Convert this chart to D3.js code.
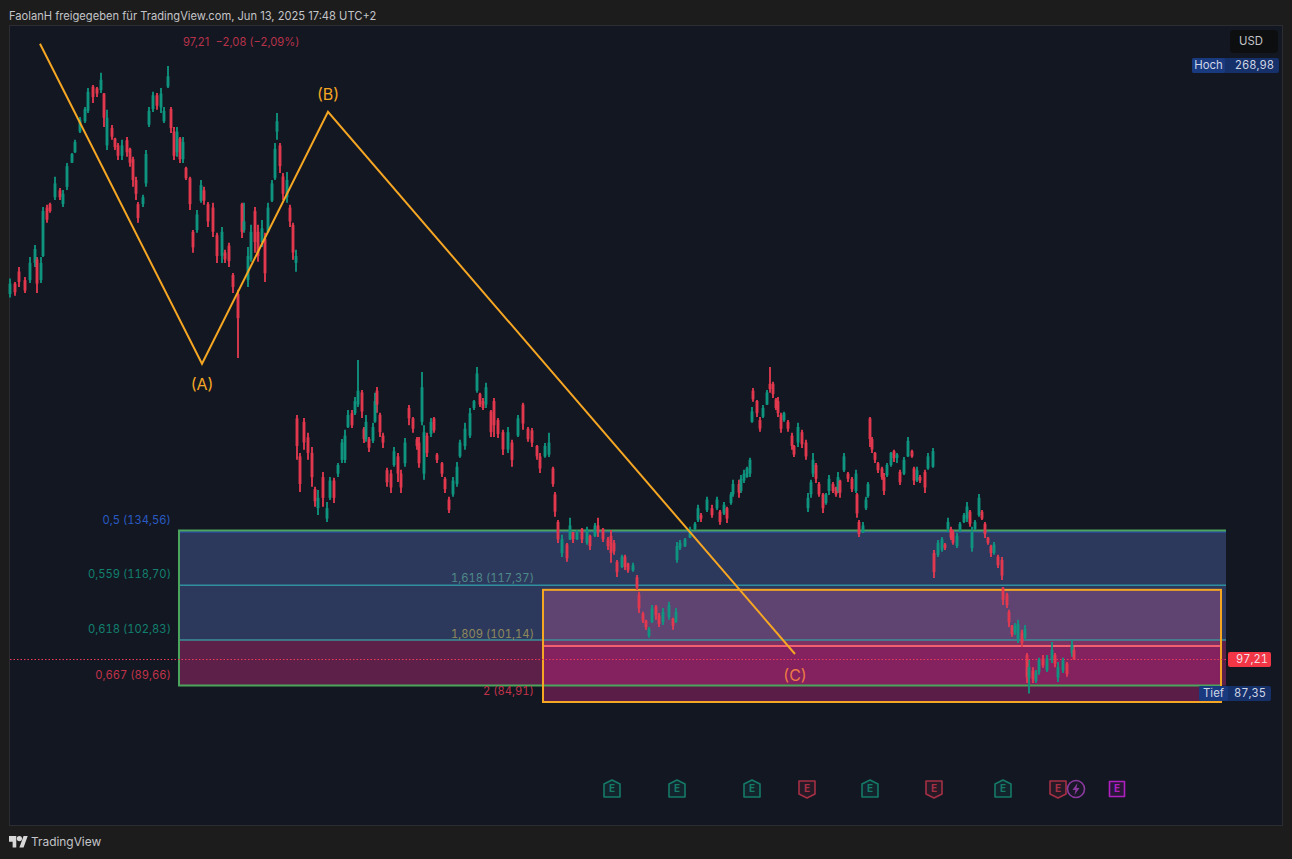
<!DOCTYPE html>
<html>
<head>
<meta charset="utf-8">
<script src="https://cdn.jsdelivr.net/npm/d3@7"></script>
<style>
  html, body { margin:0; padding:0; background:#1c1c1d; overflow:hidden; }
  text { font-family:Inter, "Noto Sans", sans-serif; }
  .num { font-variant-numeric:tabular-nums; }
</style>
</head>
<body>
<div id="chart"></div>
<script>
// bars per leg: [day, open, high, low, close]
const leg1 = [
  [0,203,207.5,202,206],[5,206,206.5,202.5,203.5],[9,209.5,210.8,205,206.5],[15,207,207.9,203.3,204],
  [20,207,213.7,206.2,212],[25,212,217.2,210.8,216],[27,213,213.7,203.3,206],[31,207,213.7,206.2,212],
  [33,214,228.2,213.7,227],[37,228,228.8,223.6,224.5],[40,229,229.4,226.5,227],[45,231,236.9,230.2,235],
  [50,233,233.7,230.2,231],[53,229,233.1,228.2,232],[57,234,240.9,233.1,240],[62,241,243.8,240.9,243.5],
  [65,244,247.6,243.8,247],[70,250,254.2,249.6,253.5],[75,253,257.1,252.5,256.5],[78,256,262.6,255.4,261.5],
  [83,263,263.5,258.3,260],[87,262.5,262.9,260,261],[91,262,267,261.2,265],[94,261,261.2,251.3,254],
  [97,246,256.3,244.7,254],[102,251,251.9,247.6,248.5],[105,248,248.2,244.7,245.5],[108,246,246.7,241.8,243],
  [112,243,247.6,241.8,246],[117,247.5,248.4,242.7,244],[120,245,245.3,239.8,241],[123,242,242.7,234,236],
  [126,236,236.9,230.2,232],[128,229,229.6,223.6,225],[133,229,231.7,228.2,231],[136,235,244.7,234,243.5],
  [139,252,257.1,251.3,256],[143,256.5,261.5,255.7,260.5],[147,260.5,261.2,256.3,257.5],[151,257,262.6,255.4,261],
  [154,253,257.1,252.5,256],[158,263,268.98,262.6,266],[161,256.5,257.1,249.6,251],[164,250,251.3,241.8,243],
  [167,244,251.3,242.7,250],[170,248,248.4,240.9,242],[173,242,248.4,240.9,247],[176,239.5,239.8,236,236.5],
  [180,236.5,236.9,227.3,229],[183,221,221.5,214.9,216.5],[187,221.5,227.3,220.7,226],[191,230,236,229.4,234.5],
  [194,233,234,228.8,230],[198,229,229.6,222.4,224],[203,228,229.4,219.5,221],[207,220,220.7,212,214],
  [212,214,222.4,212,221],[215,215,215.8,212,213],[219,217,217.8,210.8,212.5],[223,208.5,209.1,203.3,205],
  [228,203,204.2,184.5,196],[232,229,229.4,219.2,221],[234,221.5,229.4,220.7,224],[238,207,216.6,205,214],
  [241,213,223,212.3,221],[245,227,228.2,214.9,218],[248,221,223,212.3,214],[252,218,224.4,216.6,222],
  [255,219,220.7,206.5,209],[258,221,229.4,220.7,228],[262,230,236,229.6,235],[265,236.5,246.7,236,245],
  [267,250,255.4,247.6,253],[270,246,246.7,238,240],[273,237,238,230.2,232],[277,231,238.3,229.4,236],
  [280,228,228.8,222.4,224],[283,223,223.6,212.9,215],[286,212,215.8,209.4,214]
];
const leg2 = [
  [287,167,168,155,159],[290,156,157,145.7,148],[294,166,167.1,157.9,160],[298,161.5,162.8,155,157],
  [302,157,158.7,147.2,150],[305,146.5,147.2,141.4,143],[308,141,146.3,139,144],[313,150,151.5,141.4,144],
  [317,138,142.8,137,141],[320,144,150,143.4,149],[324,149,149.8,142.5,144],[328,151,154.1,150,153.5],
  [332,155,161,154.1,160],[335,155,163.7,154.1,162],[338,164.5,169.4,164.2,168],[342,168.5,169.4,164.2,165],
  [345,168.5,173.2,168,172],[348,171,183.9,170.3,175],[352,174.5,175.2,167.1,169],[354,164,164.5,159.9,161],
  [356,161,168,160.2,166],[359,161,161.6,157.3,158.5],[363,160.5,165.7,159.9,164.5],[365,166,174.4,165.7,172],
  [367,175,176.1,168.6,171],[370,168,168.6,161.6,163],[373,162,162.8,158.4,160],[377,152,152.7,147.2,148.5],
  [381,151,152.1,145.4,147],[384,153.5,158.7,153,157.5],[388,156,157,148.6,151],[391,151,152.1,145.4,147],
  [395,154,161.3,153,160],[399,170,170.9,165,167],[403,167,167.4,162.8,164],[407,161,161.6,157.9,159],
  [409,160,161.6,152.7,154],[412,166,180.4,165,176],[414,151,165,149.2,163],[417,162,162.8,155.8,157],
  [421,162.5,167.1,161.6,166],[424,167,167.4,162.8,163.5],[427,156.5,157,154.1,155],[432,154,154.4,150,151],
  [435,149.5,150,145.4,146.5],[439,143.5,144.3,139.6,140.5],[443,145,150,144.3,149],[447,148,154.4,147.2,153],
  [450,156,160.8,155.6,160],[455,159,165.7,157.9,164],[460,162,170,161.3,168.5],[464,170,172.3,169.4,172],
  [467,175,181.9,174.4,180],[470,174,174.4,170.3,171],[473,172,172.9,169.4,170],[476,171,177.3,170,176],
  [481,169,169.4,161.6,163],[484,172,172.9,161.6,165],[488,166.5,167.1,161.3,162.5],[493,163,163.7,156.4,158],
  [498,158,164.5,157,163],[502,160,160.8,153,155],[508,162,168,161.6,167],[513,171,171.5,163.7,165.5],
  [518,164,164.5,160.2,161],[522,163.5,164.2,158.7,160],[527,159,159.3,155,156],[530,156,157,151.2,152.5],
  [535,156,159.9,155.6,159],[539,156.5,162.8,155.8,160],[543,152.5,153,147.2,148],[545,145,145.7,138.5,140]
];
const leg3 = [
  [548,137,137.6,130.9,132],[552,128,133.3,126.9,132],[557,130.5,130.9,125.5,126.5],[560,132,138.2,131.8,136],
  [563,134,134.1,130.9,132],[567,132,134.7,131.8,134],[572,135,135.3,130.9,132],[577,131,135.6,130.4,135],
  [580,133,133.3,128.9,130],[585,133,136.7,132.7,136],[588,136,138.2,132.7,134],[593,135,135.3,131.2,132],
  [598,132,132.7,128.9,130],[601,133,134.7,125.2,128],[604,131,131.8,127.5,128.5],[607,125.5,126,121.1,122.5],
  [612,124,127.5,123.7,127],[615,127,127.5,123.1,124],[618,125,125.2,122.3,123],[623,123,125.2,122.6,124.5],
  [627,121,121.7,117.3,118],[629,116,116.8,110.7,112],[633,110.5,111,107.8,108.5],[636,108.5,108.7,105.8,106.5],
  [639,104,106.6,103.5,106],[642,108,113,107.8,112],[646,112.5,113,108.7,110],[649,110,110.7,106.6,107.5],
  [653,108,112.1,107.2,111],[659,109.5,113.9,108.7,113],[663,109,109.3,105.8,107],[666,108,112.1,107.8,111]
];
const leg4 = [
  [667,126,131.2,125.2,130],[670,129.5,131.8,128.9,131],[675,130,132.4,129.8,132],[680,132.5,135.6,132.4,135],
  [685,135,137,134.7,136.5],[688,137.5,142,137,141],[691,139,139.6,137,138],[697,140.5,144.3,139.9,143.5],
  [702,141,142,138.2,139],[707,141,144.3,140.5,143.5],[710,140,140.5,136.2,137],[714,139.5,142.8,139,142],
  [717,141,141.4,136.7,138],[721,142.5,145.7,142,145],[723,145,149.2,144.3,148],[729,148,149.2,144,145.5],
  [731,146,150.6,145.4,149.5],[734,149,152.1,148.3,151],[737,150,153,149.8,152.5],[740,151,155.6,150,155]
];
const leg5 = [
  [742,166,170.3,165.7,169],[743,175,175.8,171.8,172.5],[747,172,172.3,167.4,168.5],[750,166.5,167.4,163.1,164],
  [753,167.5,170.9,167.1,170],[757,171,175.2,170.9,174.5],[760,177,181.9,174.4,175.5],[763,177,177.6,172.9,174],
  [766,172.5,172.9,169.4,170],[768,172,173.2,167.4,168.5],[771,168,168.6,162.8,164],[774,166.5,168.9,166,168.5],
  [778,166,166.5,163.1,164],[782,162,162.8,157.9,159],[784,159,159.3,155.8,156.5],[788,160,165.7,158.7,164.5],
  [792,163,163.7,158.4,159.5],[796,160,160.8,155,156],[798,141,145.4,139.9,144],[801,145,149.2,144,148.5],
  [803,151,157,150,155],[806,153.5,154.1,148.3,149.5],[809,148,148.6,144.3,145],[813,145,145.4,139.6,141],
  [816,142.5,145.4,142,145],[819,146,150.6,144.8,149.5],[823,148,148.6,145.4,146],[826,147,147.2,144.3,145],
  [828,146,151.5,145.4,150],[830,149,149.2,144,145.5],[834,152,157,151.5,156],[838,151,151.5,148.6,149.5],
  [842,149.5,150,145.7,146.5],[846,146,152.1,145.4,151],[847,145,145.4,138.2,139.5],[849,137,137.6,132.7,133.5],
  [853,134,137,133.8,136],[856,141,144.3,140.5,143.5],[858,144.5,148.6,144,148]
];
const leg6 = [
  [860,167,167.4,158.7,161],[862,161,161.6,157,158],[865,157,157.3,154.1,155],[868,154,154.4,151.2,152],
  [872,152.5,153,149.2,150],[874,150,151.2,144.8,146],[877,150.5,154.1,150,153.5],[881,153.5,157.3,153,157],
  [884,157.5,157.9,154.4,155.5],[887,155.5,157,154.1,156.5],[890,151.5,152.1,147.7,148.5],[894,151,155.8,150.6,155],
  [898,156,161.6,155.8,160.5],[902,157.5,157.9,155.6,156],[904,152.5,153,147.7,149],[907,149,153,148.6,152],
  [910,150,150.6,148.3,149],[915,151.5,152.1,145.4,147],[918,152.5,157,152.1,156],[923,153,158.4,152.7,157.5]
];
const leg7 = [
  [924,128,128.9,120.8,122.5],[928,127.5,131.8,126.9,131],[932,129,132.7,128.4,132],[935,130.5,130.9,128.9,129.5],
  [938,135,138.2,134.1,137],[941,135,135.6,131.8,132.5],[943,134,134.7,130.4,131],[947,130,133.8,129.5,133],
  [950,134.5,137,134.1,136.5],[954,137,139.6,136.7,139],[957,138,142.8,137,141.5],[960,140,140.5,135.6,136.5],
  [962,129.5,135.6,128.4,134],[965,135,137.6,134.7,137],[969,139,145.1,138.5,144],[972,140,140.5,137.6,138],
  [975,136.5,137,132.4,133.5],[978,132.5,132.7,130.4,131],[981,130,130.4,126.9,128],[984,128,131.2,127.5,130.5],
  [988,127,127.5,123.7,124.5],[992,126,126.9,120.2,121.5],[993,118,118.2,113,114.5],[997,116,116.5,112.1,113],
  [999,111,111.6,106.6,108],[1002,107,107.2,103.8,104.5],[1005,105,107.8,104.3,107],[1008,103,108.7,102,107.5],
  [1012,105,105.8,100.8,102],[1015,103.5,107.2,102.9,106],[1017,98.5,99.1,90.4,92],[1019,92,97.1,87.35,95],
  [1023,94,95,90.4,91.5],[1026,91,94.2,90.4,93.5],[1029,93.5,97.7,92.8,97],[1033,97.5,98.5,94.8,95.5],
  [1037,94,98.5,93.6,97.5],[1042,97,102.3,96.2,100],[1045,98.5,99.1,95,96],[1048,92,96.5,90.7,95],
  [1053,94,97.7,93.3,97],[1057,96,96.5,92.2,93],[1062,99,102.9,98,101.5],[1064,100,100.8,97.1,97.21]
];

// fib retracement (left) and extension (right)
const fibRatios = ["0,5","0,559","0,618","0,667"];
const fibPrices = [134.56,118.70,102.83,89.66];
const fibColors = ["#2a5bc4","#12806f","#12806f","#c2334a"];
const extRatios = ["1,618","1,809","2"];
const extPrices = [117.37,101.14,84.91];
const extColors = ["#4f8a8a","#8f8a5c","#c2334a"];
const fibDays = [169,1216];
const extDays = [533,1211];

// ABC wave
const waveDays = [30,192,318,785];
const wavePrices = [275.4,182.8,255.7,98.8];
const waveNames = ["(A)","(B)","(C)"];
const waveColors = ["#f5a623","#f5a623","#ee7a45"];

// events row
const earningsDays = [602,667,742,797,860,924,993,1048];
const earningsBeat = [1,1,1,0,1,0,1,0];
const splitDay = 1066;
const nextEarningsDay = 1107;

const lastPrice = 97.21, lastChange = -2.08, lastPct = -2.09;
const highPrice = 268.98, lowPrice = 87.35;

const W = 1292, H = 859;
const UP = "#0f9681", DOWN = "#e53a50";

const fmt = d3.formatLocale({decimal:",",thousands:".",grouping:[3],currency:["",""],minus:"\u2212"}).format(".2f");

const svg = d3.select("#chart").append("svg").attr("width",W).attr("height",H);
const x = d3.scaleLinear().domain([0,1064]).range([10,1074]);
const y = d3.scaleLinear().domain([84.91,268.98]).range([702,66]);

function label(g,px,py,txt,color,size,anchor) {
  return g.append("text").attr("x",px).attr("y",py).attr("fill",color)
    .attr("font-size",size).attr("text-anchor",anchor||"start")
    .attr("dominant-baseline","middle").text(txt);
}

// frame
svg.append("rect").attr("x",9.5).attr("y",25.5).attr("width",1273).attr("height",800)
  .attr("fill","#131722").attr("stroke","#2b2d33");

label(svg,9,16.5,"FaolanH freigegeben für TradingView.com, Jun 13, 2025 17:48 UTC+2","#c4c5c8",11.15);

// fib boxes
const boxes = svg.append("g");
function band(top,bottom,days,fill,alpha) {
  boxes.append("rect").attr("x",x(days[0])).attr("width",x(days[1])-x(days[0]))
    .attr("y",y(top)).attr("height",y(bottom)-y(top)).attr("fill",fill).attr("fill-opacity",alpha);
}
function hline(price,days,color,w,dy) {
  boxes.append("line").attr("x1",x(days[0])).attr("x2",x(days[1]))
    .attr("y1",y(price)+(dy||0)).attr("y2",y(price)+(dy||0)).attr("stroke",color).attr("stroke-width",w);
}
band(fibPrices[0],fibPrices[1],fibDays,"rgb(84,110,179)",0.4);
band(fibPrices[1],fibPrices[2],fibDays,"rgb(84,110,179)",0.4);
band(fibPrices[2],fibPrices[3],fibDays,"rgb(165,41,112)",0.5);
band(extPrices[0],extPrices[1],extDays,"rgb(188,87,152)",0.35);
band(extPrices[1],extPrices[2],extDays,"rgb(185,38,125)",0.42);

hline(fibPrices[0],fibDays,"#2a4fa8",1.5,1.5);
hline(fibPrices[1],fibDays,"#2f8f9f",1.5);
hline(fibPrices[2],fibDays,"#3d8f9a",1.5);
hline(extPrices[1],extDays,"#f0606e",2);

// green outline stays open on the right, orange one is closed
const greenEdge = d3.line().x(d=>x(d[0])).y(d=>y(d[1]));
boxes.append("path").attr("fill","none").attr("stroke","#4ca55c").attr("stroke-width",2)
  .attr("d",greenEdge([[fibDays[1],fibPrices[0]],[fibDays[0],fibPrices[0]],[fibDays[0],fibPrices[3]],[extDays[1],fibPrices[3]]]));
boxes.append("rect").attr("x",x(extDays[0])).attr("y",y(extPrices[0]))
  .attr("width",x(extDays[1])-x(extDays[0])).attr("height",y(extPrices[2])-y(extPrices[0]))
  .attr("fill","none").attr("stroke","#f5a623").attr("stroke-width",2);

// last price line
svg.append("line").attr("x1",10).attr("x2",x(fibDays[1]))
  .attr("y1",y(lastPrice)).attr("y2",y(lastPrice))
  .attr("stroke","#f03a5c").attr("stroke-dasharray","1.5 2");

// candles
const bars = [].concat(leg1,leg2,leg3,leg4,leg5,leg6,leg7);
const candles = svg.append("g").style("filter","blur(0.7px)");
candles.selectAll("line").data(bars).enter().append("line")
  .attr("x1",d=>x(d[0])).attr("x2",d=>x(d[0]))
  .attr("y1",d=>y(d[2])).attr("y2",d=>y(d[3]))
  .attr("stroke",d=>d[4]>=d[1]?UP:DOWN).attr("stroke-width",1.8);
candles.selectAll("rect").data(bars).enter().append("rect")
  .attr("x",d=>x(d[0])-1.5).attr("width",3)
  .attr("y",d=>y(Math.max(d[1],d[4])))
  .attr("height",d=>Math.max(1,Math.abs(y(d[1])-y(d[4]))))
  .attr("fill",d=>d[4]>=d[1]?UP:DOWN).attr("fill-opacity",0.85);

// wave
const wave = d3.line().x((d,i)=>x(waveDays[i])).y(d=>y(d));
svg.append("path").attr("d",wave(wavePrices)).attr("fill","none")
  .attr("stroke","#f5a623").attr("stroke-width",2);
[[1,22],[2,-16],[3,22.5]].forEach((o,i)=>{
  label(svg,x(waveDays[o[0]]),y(wavePrices[o[0]])+o[1],waveNames[i],waveColors[i],16,"middle");
});

// fib labels
fibRatios.forEach((r,i)=>{
  label(svg,171,y(fibPrices[i])-10,r+" ("+fmt(fibPrices[i])+")",fibColors[i],11.2,"end").attr("class","num");
});
extRatios.forEach((r,i)=>{
  label(svg,534,y(extPrices[i])-10.5,r+" ("+fmt(extPrices[i])+")",extColors[i],11.2,"end").attr("class","num");
});

// top left quote
label(svg,183,42.5,fmt(lastPrice)+"  "+fmt(lastChange)+" ("+fmt(lastPct)+"%)","#b8324a",11.2).style("white-space","pre");

// currency + price tags
svg.append("rect").attr("x",1230).attr("y",30).attr("width",48).attr("height",23).attr("rx",4).attr("fill","#0d0e10");
label(svg,1251,42,"USD","#c4c5c8",11.3,"middle");

function tag(px,py,w,nameW,name,val) {
  svg.append("rect").attr("x",px).attr("y",py).attr("width",w).attr("height",15).attr("rx",2).attr("fill","#16306a");
  svg.append("rect").attr("x",px).attr("y",py).attr("width",nameW).attr("height",15).attr("rx",2).attr("fill","#1a3a80");
  label(svg,px+nameW/2,py+8,name,"#cfd6e6",11.4,"middle");
  label(svg,px+w-5,py+8,val,"#cfd6e6",11.2,"end").attr("class","num");
}
tag(1192,58,87,33,"Hoch",fmt(highPrice));
tag(1199,686,72,29,"Tief",fmt(lowPrice));

svg.append("rect").attr("x",1228).attr("y",652).attr("width",43).attr("height",15).attr("rx",2).attr("fill","#f23645");
label(svg,1268,660,fmt(lastPrice),"#f5dfe2",11.2,"end").attr("class","num");

// event markers
const ev = svg.append("g").attr("stroke-width",1.6);
function evE(px,color,d) {
  const g = ev.append("g").attr("transform","translate("+px+",789)");
  g.append("path").attr("d",d).attr("fill",color).attr("fill-opacity",0.14).attr("stroke",color).attr("stroke-linejoin","round");
  g.append("text").attr("text-anchor","middle").attr("dominant-baseline","middle").attr("y",0.5)
    .attr("font-size",10).attr("font-weight",700).attr("fill",color).text("E");
}
earningsDays.forEach((d,i)=>{
  if (earningsBeat[i]) evE(x(d),"#157a68","M0,-9L8,-5V8H-8V-5Z");
  else evE(x(d),"#a53045","M-8,-8H8V5L0,9L-8,5Z");
});
evE(x(nextEarningsDay),"#b01fc0","M-7.5,-7.5H7.5V7.5H-7.5Z");
const split = ev.append("g").attr("transform","translate("+x(splitDay)+",789)");
split.append("circle").attr("r",8.5).attr("fill","#1a1828").attr("stroke","#8a3a9e");
split.append("path").attr("d","M1.5,-6L-3.5,1H-0.5L-1.5,6L3.5,-1H0.5Z").attr("fill","#8a3a9e");

// logo
const logo = svg.append("g").attr("transform","translate(9,836) scale(0.52)").attr("fill","#d8d8d8");
logo.append("path").attr("d","M14 22H7V11H0V0h14zM28 22h-8L28 0h8z");
logo.append("circle").attr("cx",20).attr("cy",5).attr("r",5);
label(svg,31,842.5,"TradingView","#c4c5c8",11.9);
</script>
</body>
</html>
